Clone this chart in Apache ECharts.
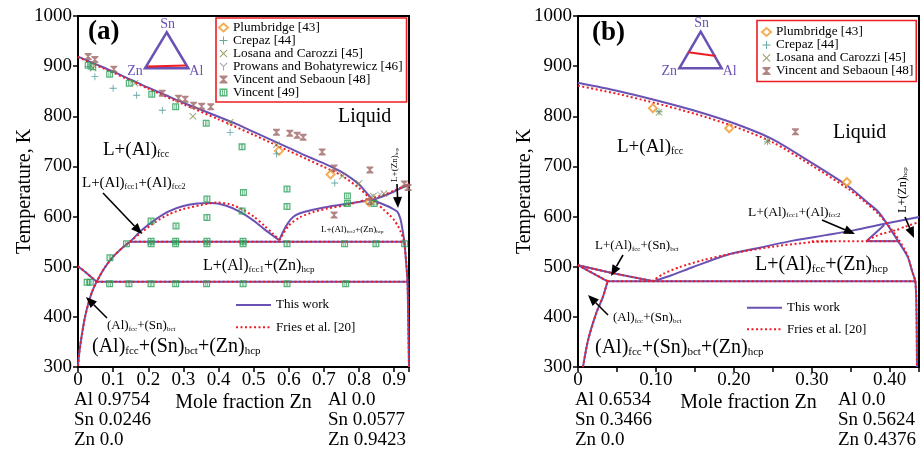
<!DOCTYPE html>
<html>
<head>
<meta charset="utf-8">
<script src="https://cdn.jsdelivr.net/npm/echarts@6/dist/echarts.min.js"></script>
<style>
html, body { margin: 0; padding: 0; background: #fff; }
#chart { width: 924px; height: 451px; }
</style>
</head>
<body>
<div id="chart"></div>
<script>
var FONT = 'Liberation Serif';
var PURPLE = '#6a52b4', RED = '#ee1c25';

// ---- panel (a): this work ----
var aLiqAl = [[0,919],[0.05,904],[0.1,889],[0.15,873],[0.2,857],[0.25,842],[0.3,827],[0.35,813],[0.4,799],[0.45,785],[0.5,769],[0.55,753],[0.6,737],[0.65,721],[0.7,706],[0.75,689],[0.8,664],[0.838,633]];
var aLiqZn = [[0.838,633],[0.87,641],[0.9,650],[0.92,657],[0.9423,664]];
var aFcc2Hcp = [[0.838,633],[0.87,624],[0.895,616],[0.91,609],[0.918,595],[0.924,573],[0.929,550],[0.934,510],[0.938,470],[0.94,400],[0.9423,300]];
var aFcc2Left = [[0.573,553],[0.59,578],[0.605,594],[0.62,603],[0.643,609],[0.7,618],[0.76,625],[0.8,629],[0.838,633]];
var aDome = [[0,302],[0.004,330],[0.01,360],[0.02,400],[0.03,428],[0.04,450],[0.053,470],[0.075,497],[0.1,520],[0.125,537],[0.148,550],[0.18,572],[0.22,594],[0.26,611],[0.3,621],[0.34,626],[0.38,627],[0.42,622],[0.46,610],[0.5,592],[0.53,575],[0.555,562],[0.573,553]];
var aSnLine = [[0,501],[0.02,490],[0.04,478],[0.053,470]];
var aIso550 = [[0.148,550],[0.929,550]];
var aIso470 = [[0.053,470],[0.938,470]];

// ---- panel (a): Fries et al. ----
var aFrLiqAl = [[0,918],[0.1,887],[0.2,855],[0.3,824],[0.4,794],[0.5,763],[0.55,747],[0.6,731],[0.65,715],[0.7,699],[0.75,682],[0.8,657],[0.83,637]];
var aFrLiqZn = [[0.83,636],[0.87,643],[0.9,652],[0.92,658],[0.9423,665]];
var aFrFcc2Hcp = [[0.83,637],[0.85,627],[0.871,613],[0.887,603],[0.9,593],[0.911,581],[0.919,569],[0.925,558],[0.929,550],[0.934,510],[0.938,470],[0.94,400],[0.9423,300]];
var aFrFcc2Left = [[0.573,553],[0.6,582],[0.633,599],[0.67,609],[0.71,616],[0.77,624],[0.83,636]];
var aFrDome = [[0,302],[0.004,330],[0.01,360],[0.02,400],[0.03,428],[0.04,450],[0.053,470],[0.075,497],[0.1,520],[0.125,537],[0.148,550],[0.18,568],[0.22,589],[0.26,605],[0.3,615],[0.35,623],[0.395,628],[0.43,625],[0.467,615],[0.5,600],[0.53,582],[0.555,566],[0.573,553]];

// ---- panel (b): this work ----
var bLiq = [[0,867],[0.05,851],[0.1,832],[0.15,811],[0.2,786],[0.25,754],[0.3,707],[0.348,659],[0.37,630],[0.385,610],[0.395,589],[0.41,553],[0.423,520],[0.429,490],[0.433,470],[0.4345,400],[0.435,300]];
var bLong = [[0.097,471],[0.12,483],[0.147,499],[0.19,523],[0.23,537],[0.276,552],[0.318,563],[0.355,573],[0.395,586],[0.4376,599]];
var bIso550 = [[0.37,551],[0.41,551]];
var bSeg = [[0.37,551],[0.393,583]];
var bSnUpper = [[0,503],[0.045,487],[0.097,471]];
var bSnLower = [[0,503],[0.038,471]];
var bSolvus = [[0.0064,300],[0.0128,353],[0.0235,408],[0.032,440],[0.038,471]];
var bIso470 = [[0.038,471],[0.434,471]];

// ---- panel (b): Fries et al. ----
var bFrLiq = [[0,861],[0.05,845],[0.1,826],[0.15,805],[0.2,780],[0.25,748],[0.3,702],[0.348,654],[0.37,627],[0.385,606],[0.397,585],[0.412,553],[0.423,522],[0.429,490],[0.433,470],[0.4345,400],[0.435,300]];
var bFrLong = [[0.095,471],[0.11,486],[0.13,499],[0.16,513],[0.2,527],[0.25,540],[0.3,549],[0.33,551]];
var bFrIso550 = [[0.3,551],[0.415,551]];
var bFrZn = [[0.372,553],[0.382,561],[0.391,566],[0.408,573],[0.42,580],[0.4376,589]];

// ---- experimental points ----
var sPlumbA = [[0.572,731],[0.719,684],[0.829,629]];
var sCrepazA = [[0.029,899],[0.048,879],[0.1,856],[0.167,842],[0.24,812],[0.433,768],[0.565,725],[0.731,667]];
var sLosanaA = [[0.043,896],[0.162,866],[0.327,800],[0.433,788],[0.565,743],[0.753,681],[0.8,666],[0.841,641],[0.871,646]];
var sProwansA = [[0.835,640],[0.86,644]];
var sVSA = [[0.029,919],[0.048,913],[0.102,894],[0.24,846],[0.286,836],[0.305,834],[0.329,822],[0.352,820],[0.378,819],[0.565,768],[0.603,766],[0.624,762],[0.641,758],[0.695,729],[0.729,697],[0.831,693],[0.831,630],[0.729,603],[0.929,665],[0.94,658]];
var sVincentA = [[0.029,902],[0.042,899],[0.09,884],[0.146,866],[0.21,844],[0.278,819],[0.365,786],[0.467,739],
  [0.595,655],[0.595,620],[0.471,648],[0.467,611],[0.367,635],[0.367,598],[0.208,591],[0.279,581],[0.767,641],[0.767,626],[0.843,626],[0.943,664],[0.091,518],
  [0.138,546],[0.208,551],[0.208,546],[0.278,551],[0.278,546],[0.367,551],[0.367,546],[0.47,551],[0.47,546],[0.595,546],[0.759,546],[0.848,546],[0.93,546],
  [0.026,469],[0.035,469],[0.09,466],[0.145,466],[0.208,466],[0.278,466],[0.366,466],[0.47,466],[0.595,466],[0.762,466]];
var sPlumbB = [[0.096,816],[0.194,776],[0.345,669]];
var sCrepazB = [[0.104,809],[0.243,749]];
var sLosanaB = [[0.104,808],[0.243,750]];
var sVSB = [[0.279,769]];

var NAMES = ['Plumbridge [43]','Crepaz [44]','Losana and Carozzi [45]','Prowans and Bohatyrewicz [46]','Vincent and Sebaoun [48]','Vincent [49]'];
var SYM = {
  'Plumbridge [43]': { symbol: 'emptyDiamond', size: 8, color: '#f39a2b' },
  'Crepaz [44]': { symbol: 'path://M4.4,0L5.6,0L5.6,4.4L10,4.4L10,5.6L5.6,5.6L5.6,10L4.4,10L4.4,5.6L0,5.6L0,4.4L4.4,4.4Z', size: 7, color: '#3b8e8e' },
  'Losana and Carozzi [45]': { symbol: 'path://M0,0.9L0.9,0L5,4.1L9.1,0L10,0.9L5.9,5L10,9.1L9.1,10L5,5.9L0.9,10L0,9.1L4.1,5Z', size: 7, color: '#7d8a3c' },
  'Prowans and Bohatyrewicz [46]': { symbol: 'path://M0,0.9L0.9,0L5,4.1L9.1,0L10,0.9L5.6,5.3L5.6,10L4.4,10L4.4,5.3Z', size: 6, color: '#8c8c9c' },
  'Vincent and Sebaoun [48]': { symbol: 'path://M0,0L10,0L10,1.6L6,5L10,8.4L10,10L0,10L0,8.4L4,5L0,1.6Z', size: 7, color: '#a06868' },
  'Vincent [49]': { symbol: 'path://M0,0L10,0L10,10L0,10Z M1.8,1.8L1.8,8.2L8.2,8.2L8.2,1.8Z M3.3,1.8L4.5,1.8L4.5,8.2L3.3,8.2Z M5.5,1.8L6.7,1.8L6.7,8.2L5.5,8.2Z', size: 7, color: '#2ca05a' }
};

function curve(data, fries, p) {
  return {
    type: 'line', name: fries ? 'Fries et al. [20]' : 'This work',
    xAxisIndex: p, yAxisIndex: p, data: data,
    symbol: 'none', showSymbol: false, smooth: data.length > 3 ? 0.25 : false,
    lineStyle: fries ? { color: RED, width: 2, type: [2, 2.5] } : { color: PURPLE, width: 2 },
    itemStyle: { color: fries ? RED : PURPLE },
    z: fries ? 3 : 2, silent: true
  };
}
function pts(name, data, p) {
  var s = SYM[name];
  return {
    type: 'scatter', name: name, xAxisIndex: p, yAxisIndex: p, data: data,
    symbol: s.symbol, symbolSize: s.size,
    itemStyle: { color: s.color, borderColor: s.color, borderWidth: name === 'Plumbridge [43]' ? 1.6 : 0 },
    z: 5, silent: true
  };
}

var series = [];
[aLiqAl, aLiqZn, aFcc2Hcp, aFcc2Left, aDome, aSnLine, aIso550, aIso470].forEach(function (d) { series.push(curve(d, false, 0)); });
[aFrLiqAl, aFrLiqZn, aFrFcc2Hcp, aFrFcc2Left, aFrDome, aSnLine, aIso550, aIso470].forEach(function (d) { series.push(curve(d, true, 0)); });
[bLiq, bLong, bIso550, bSeg, bSnUpper, bSnLower, bSolvus, bIso470].forEach(function (d) { series.push(curve(d, false, 1)); });
[bFrLiq, bFrLong, bFrIso550, bFrZn, bSnUpper, bSnLower, bSolvus, bIso470].forEach(function (d) { series.push(curve(d, true, 1)); });
series.push(pts(NAMES[0], sPlumbA, 0), pts(NAMES[1], sCrepazA, 0), pts(NAMES[2], sLosanaA, 0),
  pts(NAMES[3], sProwansA, 0), pts(NAMES[4], sVSA, 0), pts(NAMES[5], sVincentA, 0));
series.push(pts(NAMES[0], sPlumbB, 1), pts(NAMES[1], sCrepazB, 1), pts(NAMES[2], sLosanaB, 1), pts(NAMES[4], sVSB, 1));

// ---- annotation helpers (pixel positions) ----
function phase(x, y, str, fs, rot) {
  var parts = str.split(/_([a-z0-9]+)/), t = '';
  parts.forEach(function (p, i) { if (p) t += '{' + (i % 2 ? 's' : 'm') + '|' + p + '}'; });
  return {
    type: 'text', x: x, y: y, rotation: rot || 0, z: 20,
    style: {
      text: t, align: rot ? 'center' : 'left', verticalAlign: 'middle', fill: '#000',
      rich: {
        m: { fontSize: fs, fontFamily: FONT, fill: '#000' },
        s: { fontSize: Math.round(fs * 0.55), fontFamily: FONT, fill: '#000', verticalAlign: 'bottom' }
      }
    }
  };
}
function txt(x, y, s, fs, color, weight, align) {
  return {
    type: 'text', x: x, y: y, z: 20,
    style: { text: s, fontSize: fs, fontFamily: FONT, fill: color || '#000', fontWeight: weight || 'normal', align: align || 'left', verticalAlign: 'middle' }
  };
}
function arrow(x1, y1, x2, y2) {
  var a = Math.atan2(y2 - y1, x2 - x1), L = 11, W = 4.5;
  var bx = x2 - L * Math.cos(a), by = y2 - L * Math.sin(a);
  return [
    { type: 'line', z: 20, shape: { x1: x1, y1: y1, x2: bx, y2: by }, style: { stroke: '#000', lineWidth: 1.6 } },
    { type: 'polygon', z: 20, shape: { points: [[x2, y2], [bx + W * Math.sin(a), by - W * Math.cos(a)], [bx - W * Math.sin(a), by + W * Math.cos(a)]] }, style: { fill: '#000' } }
  ];
}
function tri(ax, ay, lx, ly, rx, ry, r1, r2) {
  return [
    { type: 'polygon', z: 20, shape: { points: [[ax, ay], [lx, ly], [rx, ry]] }, style: { fill: 'none', stroke: PURPLE, lineWidth: 2.5 } },
    { type: 'line', z: 21, shape: { x1: r1[0], y1: r1[1], x2: r2[0], y2: r2[1] }, style: { stroke: RED, lineWidth: 2 } },
    txt(ax + 1, ay - 8, 'Sn', 14, PURPLE, 'normal', 'center'),
    txt(lx - 10, ly + 3, 'Zn', 14, PURPLE, 'normal', 'center'),
    txt(rx + 8, ry + 3, 'Al', 14, PURPLE, 'normal', 'center')
  ];
}

var graphics = [].concat(
  txt(88, 32, '(a)', 27, '#000', 'bold'),
  txt(592, 33, '(b)', 27, '#000', 'bold'),
  tri(166.7, 32.3, 145, 68.3, 188.3, 68.3, [147, 66.5], [186, 65.5]),
  tri(700.7, 31.7, 679.3, 68.3, 721.7, 68.3, [688.3, 52.3], [716, 56]),
  txt(338, 117, 'Liquid', 20),
  phase(103, 150, 'L+(Al)_fcc', 19),
  phase(82, 183, 'L+(Al)_fcc1+(Al)_fcc2', 15),
  arrow(103, 193, 142, 234),
  phase(203, 266, 'L+(Al)_fcc1+(Zn)_hcp', 16),
  phase(321, 230, 'L+(Al)_fcc2+(Zn)_hcp', 9),
  phase(395, 165, 'L+(Zn)_hcp', 9, Math.PI / 2),
  arrow(397, 184, 398, 208),
  phase(107, 326, '(Al)_fcc+(Sn)_bct', 13),
  arrow(107, 318, 86, 297),
  phase(92, 347, '(Al)_fcc+(Sn)_bct+(Zn)_hcp', 20),
  txt(833, 133, 'Liquid', 20),
  phase(617, 147, 'L+(Al)_fcc', 19),
  phase(748, 212, 'L+(Al)_fcc1+(Al)_fcc2', 13.5),
  arrow(822, 220, 855, 234),
  phase(903, 190, 'L+(Zn)_hcp', 12, Math.PI / 2),
  arrow(905, 217, 914, 238),
  phase(755, 265, 'L+(Al)_fcc+(Zn)_hcp', 20),
  phase(595, 246, 'L+(Al)_fcc+(Sn)_bct', 13),
  arrow(623, 255, 611, 276),
  phase(613, 318, '(Al)_fcc+(Sn)_bct', 13),
  arrow(608, 315, 588, 295),
  phase(595, 348, '(Al)_fcc+(Sn)_bct+(Zn)_hcp', 20),
  txt(74, 400, 'Al 0.9754', 19), txt(74, 420, 'Sn 0.0246', 19), txt(74, 440, 'Zn 0.0', 19),
  txt(328, 400, 'Al 0.0', 19), txt(328, 420, 'Sn 0.0577', 19), txt(328, 440, 'Zn 0.9423', 19),
  txt(575, 400, 'Al 0.6534', 19), txt(575, 420, 'Sn 0.3466', 19), txt(575, 440, 'Zn 0.0', 19),
  txt(838, 400, 'Al 0.0', 19), txt(838, 420, 'Sn 0.5624', 19), txt(838, 440, 'Zn 0.4376', 19)
);

function xAx(grid, max, interval, fmt) {
  return {
    gridIndex: grid, type: 'value', min: 0, max: max, interval: interval,
    axisLine: { onZero: false, lineStyle: { color: '#000', width: 2 } },
    axisTick: { length: 5, lineStyle: { color: '#000', width: 1.5 } },
    splitLine: { show: false },
    axisLabel: { fontFamily: FONT, fontSize: 19, color: '#000', margin: 4, formatter: fmt },
    name: 'Mole fraction Zn', nameLocation: 'middle', nameGap: 26, nameMoveOverlap: false,
    nameTextStyle: { fontFamily: FONT, fontSize: 20, color: '#000' }
  };
}
function yAx(grid) {
  return {
    gridIndex: grid, type: 'value', min: 300, max: 1000, interval: 100,
    axisLine: { onZero: false, lineStyle: { color: '#000', width: 2 } },
    axisTick: { length: 5, lineStyle: { color: '#000', width: 1.5 } },
    splitLine: { show: false },
    axisLabel: { fontFamily: FONT, fontSize: 19, color: '#000', margin: 6, formatter: function (v) { return String(v); } },
    name: 'Temperature, K', nameLocation: 'middle', nameGap: 43, nameMoveOverlap: false,
    nameTextStyle: { fontFamily: FONT, fontSize: 20, color: '#000' }
  };
}
function onTenth(v) { return Math.abs(v * 10 - Math.round(v * 10)) < 1e-6; }

var legText = { fontFamily: FONT, fontSize: 13.2, color: '#000', lineHeight: 12.1 };
var lineLeg = { fontFamily: FONT, fontSize: 13, color: '#000', lineHeight: 14 };
var hideSym = { color: 'rgba(0,0,0,0)', borderWidth: 0, opacity: 0 };
var option = {
  animation: false,
  backgroundColor: '#fff',
  grid: [
    { left: 78, top: 16, width: 331, height: 351, show: true, borderColor: '#000', borderWidth: 2 },
    { left: 578, top: 16, width: 341, height: 351, show: true, borderColor: '#000', borderWidth: 2 }
  ],
  xAxis: [
    xAx(0, 0.9423, 0.1, function (v) { return !onTenth(v) ? '' : (v === 0 ? '0' : v.toFixed(1)); }),
    xAx(1, 0.4376, 0.05, function (v) { return !onTenth(v) ? '' : (v === 0 ? '0' : v.toFixed(2)); })
  ],
  yAxis: [yAx(0), yAx(1)],
  legend: [
    { data: NAMES, left: 216, top: 18, orient: 'vertical', itemGap: 0, itemWidth: 9, itemHeight: 8,
      padding: [3, 4, 3, 2], borderColor: RED, borderWidth: 1.6, textStyle: legText, selectedMode: false },
    { data: [NAMES[0], NAMES[1], NAMES[2], NAMES[4]], left: 757, top: 20.5, orient: 'vertical', itemGap: 0, itemWidth: 9, itemHeight: 8,
      padding: [5, 3, 4, 4], borderColor: RED, borderWidth: 1.6, textStyle: legText, selectedMode: false },
    { data: ['This work', 'Fries et al. [20]'], left: 235, top: 298, orient: 'vertical', itemStyle: hideSym,
      itemGap: 8.3, itemWidth: 35, itemHeight: 10, padding: 0, textStyle: lineLeg, selectedMode: false },
    { data: ['This work', 'Fries et al. [20]'], left: 746, top: 300.7, orient: 'vertical', itemStyle: hideSym,
      itemGap: 7.6, itemWidth: 35, itemHeight: 10, padding: 0, textStyle: lineLeg, selectedMode: false }
  ],
  graphic: graphics,
  series: series
};

var chart = echarts.init(document.getElementById('chart'), null, { renderer: 'canvas' });
chart.setOption(option);
</script>
</body>
</html>
